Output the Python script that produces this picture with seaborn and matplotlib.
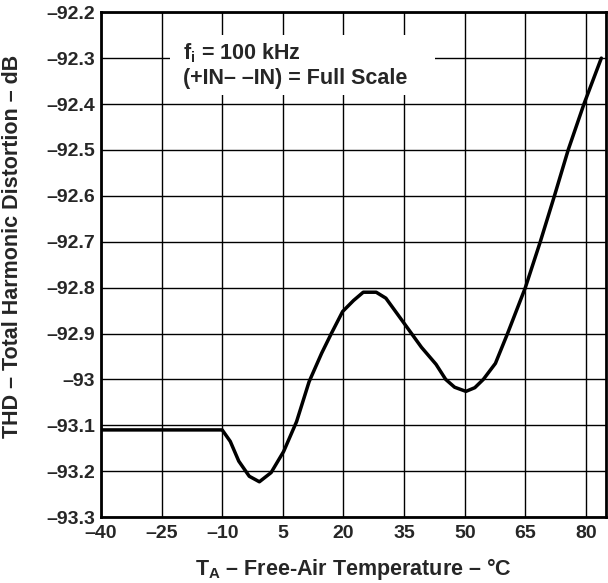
import matplotlib
matplotlib.use("Agg")
import matplotlib.pyplot as plt
from matplotlib.patches import Rectangle
import seaborn as sns
import pandas as pd

# Data
temperature = [-40, -25, -10, -8.0, -5.9, -3.3, -0.8, 2.1, 5.2, 8.4, 11.5, 14.6, 17.0,
               19.8, 22.5, 24.9, 28.1, 30.5, 35.2, 39.3, 42.9, 45.3, 47.5, 50.3, 52.5,
               54.6, 57.6, 60.6, 65.0, 68.7, 72.2, 75.6, 79.5, 83.8]
thd = [-93.11, -93.11, -93.11, -93.135, -93.178, -93.211, -93.223, -93.203, -93.157,
       -93.092, -93.005, -92.943, -92.90, -92.852, -92.828, -92.81, -92.81, -92.823,
       -92.88, -92.93, -92.967, -93.0, -93.017, -93.026, -93.018, -93.0, -92.965,
       -92.90, -92.80, -92.70, -92.60, -92.50, -92.40, -92.30]

x_ticks = [-40, -25, -10, 5, 20, 35, 50, 65, 80]
x_tick_labels = ["\u201340", "\u201325", "\u201310", "5", "20", "35", "50", "65", "80"]
y_ticks = [-92.2, -92.3, -92.4, -92.5, -92.6, -92.7, -92.8, -92.9, -93.0, -93.1, -93.2, -93.3]
y_tick_labels = ["\u201392.2", "\u201392.3", "\u201392.4", "\u201392.5", "\u201392.6", "\u201392.7",
                 "\u201392.8", "\u201392.9", "\u201393", "\u201393.1", "\u201393.2", "\u201393.3"]

sns.set_style("white")
plt.rcParams['font.family'] = ['Liberation Sans', 'DejaVu Sans']
plt.rcParams['font.weight'] = 'bold'
plt.rcParams['mathtext.fontset'] = 'custom'
plt.rcParams['mathtext.rm'] = 'Liberation Sans:bold'
plt.rcParams['mathtext.it'] = 'Liberation Sans:bold'
plt.rcParams['mathtext.bf'] = 'Liberation Sans:bold'

df = pd.DataFrame({"T": temperature, "THD": thd})

fig = plt.figure(figsize=(6.08, 5.83), dpi=100)
ax = fig.add_axes([0.166, 0.113, 0.831, 0.866])

ax.set_xlim(-40, 85)
ax.set_ylim(-93.3, -92.2)
ax.set_xticks(x_ticks)
ax.set_xticklabels(x_tick_labels)
ax.set_yticks(y_ticks)
ax.set_yticklabels(y_tick_labels)
ax.grid(True, color="black", linewidth=1.0)
ax.set_axisbelow(True)
ax.tick_params(axis='y', length=0, labelsize=14, pad=4)
ax.tick_params(axis='x', length=0, labelsize=14, pad=5.5)
for lbl in ax.get_xticklabels() + ax.get_yticklabels():
    lbl.set_fontweight('bold')
for s in ax.spines.values():
    s.set_linewidth(2.0)
    s.set_color("black")

# white background behind annotation (covers the grid)
ax.add_patch(Rectangle((-22.9, -92.38), 65.6, 0.13, facecolor='white', edgecolor='none', zorder=1.5))

sns.lineplot(data=df, x="T", y="THD", ax=ax, color="black", linewidth=2.5,
             estimator=None, sort=False, zorder=3)

ax.set_xlabel("T$_{\\mathrm{A}}$ \u2013 Free-Air Temperature \u2013 \u00b0C",
              fontsize=15.5, fontweight='bold', labelpad=10)
ax.set_ylabel("THD \u2013 Total Harmonic Distortion \u2013 dB", fontsize=15.5,
              fontweight='bold')
ax.yaxis.set_label_coords(-0.154, 0.537)

ax.text(-19.7, -92.315, "f$_{\\mathrm{i}}$ = 100 kHz\n(+IN\u2013 \u2013IN) = Full Scale",
        fontsize=15.5, fontweight='bold', va='center', ha='left', linespacing=1.2,
        zorder=4)

fig.savefig("out.png", dpi=100)
